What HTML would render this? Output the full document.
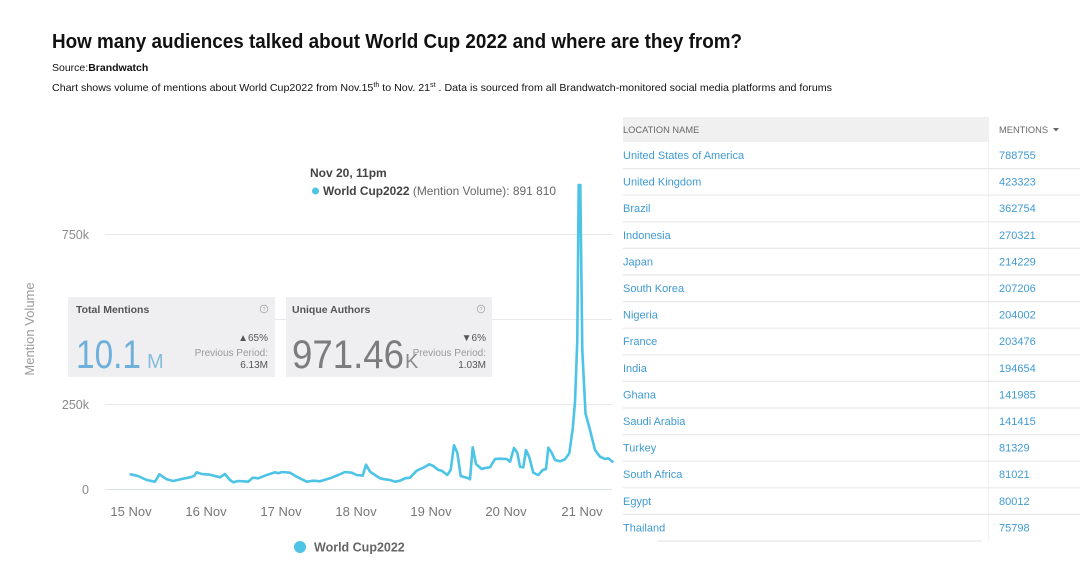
<!DOCTYPE html>
<html>
<head>
<meta charset="utf-8">
<style>
  html,body{margin:0;padding:0;background:#fff;}
  body{width:1080px;height:573px;overflow:hidden;}
  svg{display:block;font-family:"Liberation Sans",Arial,sans-serif;}
</style>
</head>
<body>
<svg width="1080" height="573" viewBox="0 0 1080 573" xmlns="http://www.w3.org/2000/svg">
  <rect x="0" y="0" width="1080" height="573" fill="#ffffff"/>

  <!-- Header texts -->
  <text x="52" y="48" font-size="20" font-weight="bold" fill="#111" textLength="690" lengthAdjust="spacingAndGlyphs">How many audiences talked about World Cup 2022 and where are they from?</text>
  <text x="52" y="71" font-size="10.5" fill="#111">Source:<tspan font-weight="bold">Brandwatch</tspan></text>
  <text x="52" y="91" font-size="10.5" fill="#111" textLength="780" lengthAdjust="spacingAndGlyphs">Chart shows volume of mentions about World Cup2022 from Nov.15<tspan font-size="7" dy="-4">th</tspan><tspan dy="4"> to Nov. 21</tspan><tspan font-size="7" dy="-4">st</tspan><tspan dy="4"> . Data is sourced from all Brandwatch-monitored social media platforms and forums</tspan></text>

  <!-- Gridlines -->
  <g stroke="#e6e8ec" stroke-width="1">
    <line x1="105" y1="234.5" x2="612" y2="234.5"/>
    <line x1="105" y1="319.5" x2="612" y2="319.5"/>
    <line x1="105" y1="404.5" x2="612" y2="404.5"/>
    <line x1="105" y1="489.5" x2="612" y2="489.5" stroke="#dde2ea"/>
  </g>

  <!-- Y labels -->
  <g font-size="12.5" fill="#8a8a8a" text-anchor="end">
    <text x="89" y="239">750k</text>
    <text x="89" y="409">250k</text>
    <text x="89" y="494">0</text>
  </g>
  <text transform="translate(34,329) rotate(-90)" font-size="13" fill="#9a9a9a" text-anchor="middle">Mention Volume</text>

  <!-- X labels -->
  <g font-size="13" fill="#777" text-anchor="middle">
    <text x="131" y="516">15 Nov</text>
    <text x="206" y="516">16 Nov</text>
    <text x="281" y="516">17 Nov</text>
    <text x="356" y="516">18 Nov</text>
    <text x="431" y="516">19 Nov</text>
    <text x="506" y="516">20 Nov</text>
    <text x="582" y="516">21 Nov</text>
  </g>

  <!-- Data line -->
  <polyline fill="none" stroke="#4dc3e6" stroke-width="2.6" stroke-linejoin="round" stroke-linecap="round"
    points="130.7,474.3 138,476 146.7,480 155,481.7 159.3,474.3 166.7,479.3 173.3,481 181.7,479 190,477.3 194,476 196.7,472.3 201.7,474 210,474.7 220,477.3 225,474 230,480 233.3,482.3 238.3,481 248.3,481.7 252.7,477.7 258.3,478.3 266.7,475 275,472.3 278.3,473.3 281.7,472 290,472.7 296.7,476.7 306.7,481.7 313.3,480.7 320,481.3 330,478.3 338.3,475 345,472 351.7,472.7 356.7,475 362.7,475.7 366,464.7 370,471.7 375,475 380,478.3 385,479.3 390,480 395,481.7 400,480.7 405,478.3 410,477.7 416.7,470.7 423.3,467.7 429.3,464.3 433.3,466 438.3,470 441.7,470.7 447.3,475 450.7,470 454,445.3 457.3,452.7 460.7,476 468.3,478.3 470,479.3 472.7,447.3 476,464 481.7,469 485,468 490,467.3 495,459 500,458.7 506.7,459 510,461.7 514,448 517.3,452.7 520,466.7 523.3,467.3 526,450 529.3,457.3 533.3,472.7 538.3,475 542.7,470 546,469 548.3,447.7 551.7,452.7 555,460 560,461.3 565,459.3 569.3,453.3 572.7,429 575,402 577.3,340 578.7,185 580.3,185 582.3,350 585.5,413.3 590,430 595,450 600,456.7 605,459 608.3,458.3 612.5,461.7"/>

  <!-- Tooltip -->
  <text x="310" y="177" font-size="12" font-weight="bold" fill="#444">Nov 20, 11pm</text>
  <circle cx="315.5" cy="191" r="3.5" fill="#4dc3e6"/>
  <text x="323" y="195" font-size="12" fill="#666" textLength="233" lengthAdjust="spacingAndGlyphs"><tspan font-weight="bold" fill="#444">World Cup2022</tspan> (Mention Volume): 891 810</text>

  <!-- Card 1 -->
  <rect x="68" y="297" width="207" height="80" fill="#efeff1"/>
  <text x="76" y="313" font-size="10.5" font-weight="bold" fill="#555">Total Mentions</text>
  <circle cx="264" cy="309" r="3.8" fill="none" stroke="#aaa" stroke-width="0.8"/>
  <text x="264" y="311" font-size="5" fill="#aaa" text-anchor="middle">?</text>
  <text x="76" y="368" font-size="40" fill="#6fb0da" textLength="65" lengthAdjust="spacingAndGlyphs">10.1</text>
  <text x="147" y="368" font-size="20" fill="#86bcdf">M</text>
  <text x="268" y="341" font-size="10" fill="#555" text-anchor="end">▲65%</text>
  <text x="268" y="356" font-size="10" fill="#9a9a9a" text-anchor="end">Previous Period:</text>
  <text x="268" y="368" font-size="10" fill="#555" text-anchor="end">6.13M</text>

  <!-- Card 2 -->
  <rect x="286" y="297" width="206" height="80" fill="#efeff1"/>
  <text x="292" y="313" font-size="10.5" font-weight="bold" fill="#555">Unique Authors</text>
  <circle cx="481" cy="309" r="3.8" fill="none" stroke="#aaa" stroke-width="0.8"/>
  <text x="481" y="311" font-size="5" fill="#aaa" text-anchor="middle">?</text>
  <text x="292" y="368" font-size="40" fill="#7c7c7c" textLength="112" lengthAdjust="spacingAndGlyphs">971.46</text>
  <text x="405" y="368" font-size="20" fill="#8a8a8a">K</text>
  <text x="486" y="341" font-size="10" fill="#555" text-anchor="end">▼6%</text>
  <text x="486" y="356" font-size="10" fill="#9a9a9a" text-anchor="end">Previous Period:</text>
  <text x="486" y="368" font-size="10" fill="#555" text-anchor="end">1.03M</text>

  <!-- Legend -->
  <circle cx="300" cy="547" r="6" fill="#4dc3e6"/>
  <text x="314" y="551.5" font-size="12.5" font-weight="bold" fill="#666">World Cup2022</text>

  <!-- Table -->
  <rect x="617" y="110" width="463" height="440" fill="#ffffff"/>
  <rect x="623" y="117" width="365" height="25" fill="#f0f0f0"/>
  <text x="623" y="133" font-size="9.3" fill="#6a6a6a">LOCATION NAME</text>
  <text x="999" y="133" font-size="9.3" fill="#6a6a6a">MENTIONS</text>
  <path d="M1053,128 L1059,128 L1056,131.5 Z" fill="#666"/>
  <line x1="988.5" y1="117" x2="988.5" y2="540" stroke="#f0f0f0" stroke-width="1"/>

  <g stroke="#e8e8e8" stroke-width="1.2">
    <line x1="623" y1="168.6" x2="1080" y2="168.6"/>
    <line x1="623" y1="195.2" x2="1080" y2="195.2"/>
    <line x1="623" y1="221.8" x2="1080" y2="221.8"/>
    <line x1="623" y1="248.4" x2="1080" y2="248.4"/>
    <line x1="623" y1="275" x2="1080" y2="275"/>
    <line x1="623" y1="301.6" x2="1080" y2="301.6"/>
    <line x1="623" y1="328.2" x2="1080" y2="328.2"/>
    <line x1="623" y1="354.8" x2="1080" y2="354.8"/>
    <line x1="623" y1="381.4" x2="1080" y2="381.4"/>
    <line x1="623" y1="408" x2="1080" y2="408"/>
    <line x1="623" y1="434.6" x2="1080" y2="434.6"/>
    <line x1="623" y1="461.2" x2="1080" y2="461.2"/>
    <line x1="623" y1="487.8" x2="1080" y2="487.8"/>
    <line x1="623" y1="514.4" x2="1080" y2="514.4"/>
    <line x1="657" y1="541" x2="982" y2="541"/>
  </g>

  <g font-size="11" fill="#3f9bd3">
    <text x="623" y="159">United States of America</text><text x="999" y="159">788755</text>
    <text x="623" y="185.6">United Kingdom</text><text x="999" y="185.6">423323</text>
    <text x="623" y="212.2">Brazil</text><text x="999" y="212.2">362754</text>
    <text x="623" y="238.8">Indonesia</text><text x="999" y="238.8">270321</text>
    <text x="623" y="265.4">Japan</text><text x="999" y="265.4">214229</text>
    <text x="623" y="292">South Korea</text><text x="999" y="292">207206</text>
    <text x="623" y="318.6">Nigeria</text><text x="999" y="318.6">204002</text>
    <text x="623" y="345.2">France</text><text x="999" y="345.2">203476</text>
    <text x="623" y="371.8">India</text><text x="999" y="371.8">194654</text>
    <text x="623" y="398.4">Ghana</text><text x="999" y="398.4">141985</text>
    <text x="623" y="425">Saudi Arabia</text><text x="999" y="425">141415</text>
    <text x="623" y="451.6">Turkey</text><text x="999" y="451.6">81329</text>
    <text x="623" y="478.2">South Africa</text><text x="999" y="478.2">81021</text>
    <text x="623" y="504.8">Egypt</text><text x="999" y="504.8">80012</text>
    <text x="623" y="531.4">Thailand</text><text x="999" y="531.4">75798</text>
  </g>
</svg>
</body>
</html>
